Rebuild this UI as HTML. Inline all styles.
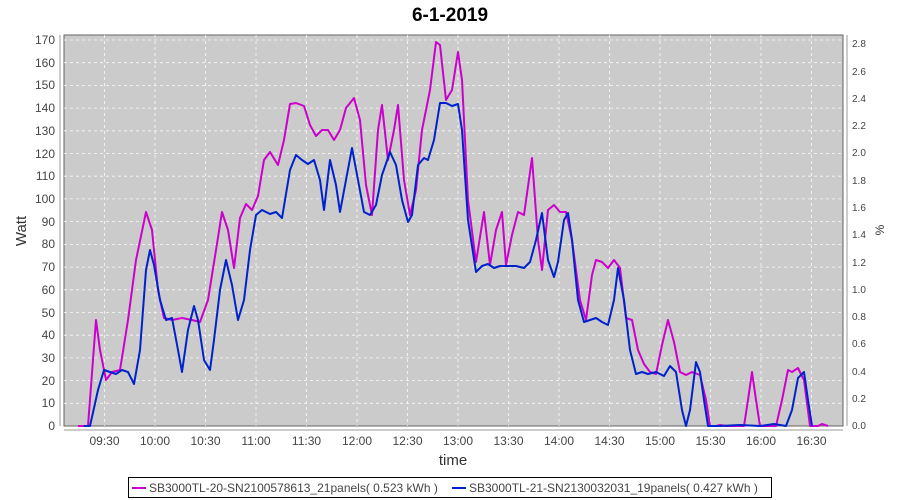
<!DOCTYPE html>
<html><head><meta charset="utf-8"><style>
body{margin:0;background:#fff;}
svg{display:block;font-family:"Liberation Sans",sans-serif;}
</style></head><body>
<svg width="900" height="500" viewBox="0 0 900 500">
<text x="450" y="21" text-anchor="middle" font-size="19" font-weight="bold" fill="#000">6-1-2019</text>
<rect x="64" y="35" width="779" height="391" fill="#cbcbcb" stroke="#666" stroke-width="1"/>
<g stroke="#fff" stroke-width="0.8" stroke-dasharray="3,3" opacity="0.9">
<line x1="64" x2="843" y1="40" y2="40"/><line x1="64" x2="843" y1="62.7" y2="62.7"/><line x1="64" x2="843" y1="85.4" y2="85.4"/><line x1="64" x2="843" y1="108.1" y2="108.1"/><line x1="64" x2="843" y1="130.8" y2="130.8"/><line x1="64" x2="843" y1="153.5" y2="153.5"/><line x1="64" x2="843" y1="176.2" y2="176.2"/><line x1="64" x2="843" y1="198.9" y2="198.9"/><line x1="64" x2="843" y1="221.6" y2="221.6"/><line x1="64" x2="843" y1="244.4" y2="244.4"/><line x1="64" x2="843" y1="267.1" y2="267.1"/><line x1="64" x2="843" y1="289.8" y2="289.8"/><line x1="64" x2="843" y1="312.5" y2="312.5"/><line x1="64" x2="843" y1="335.2" y2="335.2"/><line x1="64" x2="843" y1="357.9" y2="357.9"/><line x1="64" x2="843" y1="380.6" y2="380.6"/><line x1="64" x2="843" y1="403.3" y2="403.3"/>
<line y1="35" y2="426" x1="104.5" x2="104.5"/><line y1="35" y2="426" x1="155" x2="155"/><line y1="35" y2="426" x1="205.5" x2="205.5"/><line y1="35" y2="426" x1="256" x2="256"/><line y1="35" y2="426" x1="306.5" x2="306.5"/><line y1="35" y2="426" x1="357" x2="357"/><line y1="35" y2="426" x1="407.5" x2="407.5"/><line y1="35" y2="426" x1="458" x2="458"/><line y1="35" y2="426" x1="508.5" x2="508.5"/><line y1="35" y2="426" x1="559" x2="559"/><line y1="35" y2="426" x1="609.5" x2="609.5"/><line y1="35" y2="426" x1="660" x2="660"/><line y1="35" y2="426" x1="710.5" x2="710.5"/><line y1="35" y2="426" x1="761" x2="761"/><line y1="35" y2="426" x1="811.5" x2="811.5"/>
</g>
<g font-size="12" fill="#444" text-anchor="end">
<text x="55" y="44">170</text><text x="55" y="67">160</text><text x="55" y="89">150</text><text x="55" y="112">140</text><text x="55" y="135">130</text><text x="55" y="158">120</text><text x="55" y="180">110</text><text x="55" y="203">100</text><text x="55" y="226">90</text><text x="55" y="248">80</text><text x="55" y="271">70</text><text x="55" y="294">60</text><text x="55" y="317">50</text><text x="55" y="339">40</text><text x="55" y="362">30</text><text x="55" y="385">20</text><text x="55" y="407">10</text><text x="55" y="430">0</text>
</g>
<g stroke="#999" stroke-width="1"><line x1="60" x2="60" y1="35" y2="426"/><line x1="847" x2="847" y1="35" y2="426"/><line x1="64" x2="843" y1="430" y2="430"/></g>
<g font-size="10" fill="#444">
<text x="852" y="429">0.0</text><text x="852" y="402">0.2</text><text x="852" y="375">0.4</text><text x="852" y="347">0.6</text><text x="852" y="320">0.8</text><text x="852" y="293">1.0</text><text x="852" y="266">1.2</text><text x="852" y="238">1.4</text><text x="852" y="211">1.6</text><text x="852" y="184">1.8</text><text x="852" y="156">2.0</text><text x="852" y="129">2.2</text><text x="852" y="102">2.4</text><text x="852" y="75">2.6</text><text x="852" y="47">2.8</text>
</g>
<g font-size="12" fill="#444" text-anchor="middle">
<text x="104.5" y="445">09:30</text><text x="155" y="445">10:00</text><text x="205.5" y="445">10:30</text><text x="256" y="445">11:00</text><text x="306.5" y="445">11:30</text><text x="357" y="445">12:00</text><text x="407.5" y="445">12:30</text><text x="458" y="445">13:00</text><text x="508.5" y="445">13:30</text><text x="559" y="445">14:00</text><text x="609.5" y="445">14:30</text><text x="660" y="445">15:00</text><text x="710.5" y="445">15:30</text><text x="761" y="445">16:00</text><text x="811.5" y="445">16:30</text>
</g>
<text x="453" y="465" text-anchor="middle" font-size="15" fill="#333">time</text>
<text transform="translate(26,231) rotate(-90)" text-anchor="middle" font-size="15" fill="#333">Watt</text>
<text transform="translate(884,230) rotate(-90)" text-anchor="middle" font-size="12" fill="#333">%</text>
<polyline fill="none" stroke="#cc00cc" stroke-width="2" stroke-linejoin="round" points="78,426 88,426 96,320 100,350 106,380 112,372 120,370 128,320 136,260 146,212 152,230 158,290 164,318 172,320 182,318 192,320 200,322 208,300 216,250 222,212 228,230 234,268 240,218 246,204 252,210 258,196 264,160 270,152 278,165 284,140 290,104 296,103 304,106 310,125 316,136 322,130 328,130 334,140 340,130 346,108 354,98 360,120 366,185 372,215 378,130 382,105 388,160 394,130 398,105 404,180 410,215 416,190 422,130 430,90 436,42 440,45 446,100 452,90 458,52 462,80 468,200 476,262 484,212 490,265 496,230 502,212 506,265 512,235 518,212 524,215 532,158 538,240 542,270 548,210 554,205 560,212 566,212 572,240 580,300 586,320 592,275 596,260 602,262 608,268 614,260 620,268 626,318 632,320 638,350 644,364 650,372 656,374 662,345 668,320 674,342 680,372 686,375 692,372 700,375 706,400 710,426 716,426 720,425 726,426 744,426 748,400 752,372 756,400 760,426 776,426 782,400 788,370 792,372 798,368 804,380 810,426 818,426 822,424 828,426"/>
<polyline fill="none" stroke="#0022cc" stroke-width="2" stroke-linejoin="round" points="84,426 90,426 98,390 104,370 110,372 116,374 122,370 128,372 134,384 140,350 146,270 150,250 154,265 160,300 166,320 172,318 178,350 182,372 188,330 194,306 198,320 204,360 210,370 214,340 220,290 226,260 232,285 238,320 244,300 250,250 256,215 262,210 270,214 276,212 282,218 290,170 296,155 302,160 308,164 314,160 320,180 324,210 330,160 336,185 340,212 346,180 352,148 358,180 364,212 370,215 376,205 382,175 390,152 396,165 402,200 408,222 412,215 418,165 424,158 428,160 434,140 440,103 446,103 452,106 458,104 462,130 468,220 476,272 482,266 488,264 494,268 500,266 508,266 516,266 524,268 530,262 536,240 542,213 548,260 554,277 558,262 564,220 568,213 572,240 578,300 584,322 590,320 596,318 602,322 608,325 614,300 618,268 624,300 630,350 636,374 642,372 648,374 656,372 664,376 670,366 676,372 682,410 686,426 690,410 696,362 700,372 704,400 708,426 720,426 740,425 760,426 774,424 786,426 792,410 798,378 804,372 808,400 812,426"/>
<rect x="128.5" y="477.5" width="643" height="20" fill="#fff" stroke="#000" stroke-width="1"/>
<line x1="132" x2="146" y1="488" y2="488" stroke="#cc00cc" stroke-width="2"/>
<text x="149" y="492" font-size="12" fill="#444">SB3000TL-20-SN2100578613_21panels( 0.523 kWh )</text>
<line x1="452" x2="466" y1="488" y2="488" stroke="#0022cc" stroke-width="2"/>
<text x="469" y="492" font-size="12" fill="#444">SB3000TL-21-SN2130032031_19panels( 0.427 kWh )</text>
</svg>
</body></html>
